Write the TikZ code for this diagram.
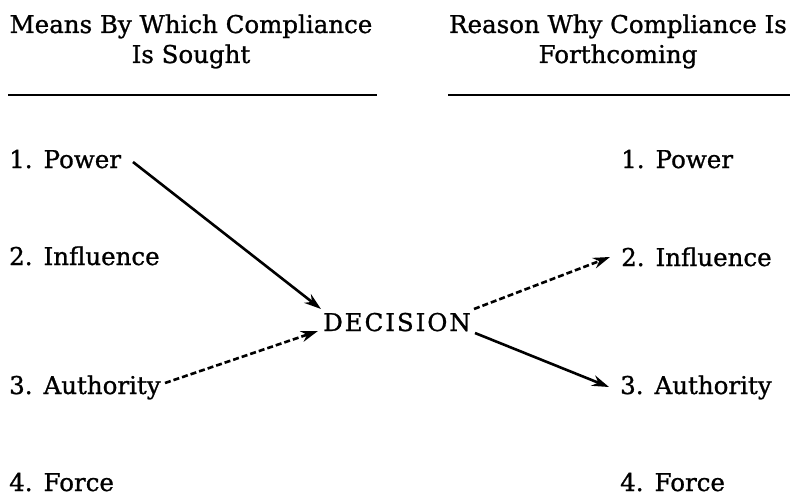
\documentclass[tikz,border=0pt]{standalone}
\usepackage{fontspec}
\setmainfont{DejaVu Serif}
\usetikzlibrary{arrows.meta}
\begin{document}
\begin{tikzpicture}[x=1pt,y=-1pt,
  txt/.style={inner sep=0pt,font=\fontsize{24.5}{29}\selectfont\addfontfeature{FakeBold=1}},
  rule/.style={line width=2pt},
  conn/.style={line width=2.6pt,-{Stealth[length=17pt,width=11pt]}},
  dashconn/.style={conn,dash pattern=on 6pt off 3pt}]
\useasboundingbox (0,0) rectangle (791,497);
% headings
\node[txt,anchor=base] (hl1) at (191,33) {Means By Which Compliance};
\node[txt,anchor=base] (hl2) at (191,63) {Is Sought};
\node[txt,anchor=base] (hr1) at (618,33) {Reason Why Compliance Is};
\node[txt,anchor=base] (hr2) at (618,63) {Forthcoming};
\coordinate (ul1) at (8,95); \coordinate (ul2) at (377,95);
\coordinate (ur1) at (448,95); \coordinate (ur2) at (790,95);
\draw[rule] (ul1) -- (ul2);
\draw[rule] (ur1) -- (ur2);
% items
\newcommand\itm[2]{#1.\hspace{0.45em}#2}
\node[txt,anchor=base west] (l1) at (9,168) {\itm{1}{Power}};
\node[txt,anchor=base west] (l2) at (9,265) {\itm{2}{Influence}};
\node[txt,anchor=base west] (l3) at (9,394) {\itm{3}{Authority}};
\node[txt,anchor=base west] (l4) at (9,491) {\itm{4}{Force}};
\node[txt,anchor=base west] (r1) at (621,168) {\itm{1}{Power}};
\node[txt,anchor=base west] (r2) at (621,266) {\itm{2}{Influence}};
\node[txt,anchor=base west] (r3) at (620,394) {\itm{3}{Authority}};
\node[txt,anchor=base west] (r4) at (620,491) {\itm{4}{Force}};
% decision
\node[txt,anchor=base,font=\fontsize{24.5}{29}\selectfont\addfontfeature{FakeBold=1,LetterSpace=8}] (dec) at (397,331) {DECISION};
\coordinate (d1) at (321,309);
\coordinate (d2) at (318,331);
\coordinate (d3) at (474,309);
\coordinate (d4) at (475,333);
\coordinate (s1) at (133,162);
\coordinate (s3) at (165,383);
\coordinate (e2) at (610,257);
\coordinate (e3) at (609,387);
\draw[conn] (s1) -- (d1);
\draw[dashconn] (s3) -- (d2);
\draw[dashconn] (d3) -- (e2);
\draw[conn] (d4) -- (e3);
\end{tikzpicture}
\end{document}
